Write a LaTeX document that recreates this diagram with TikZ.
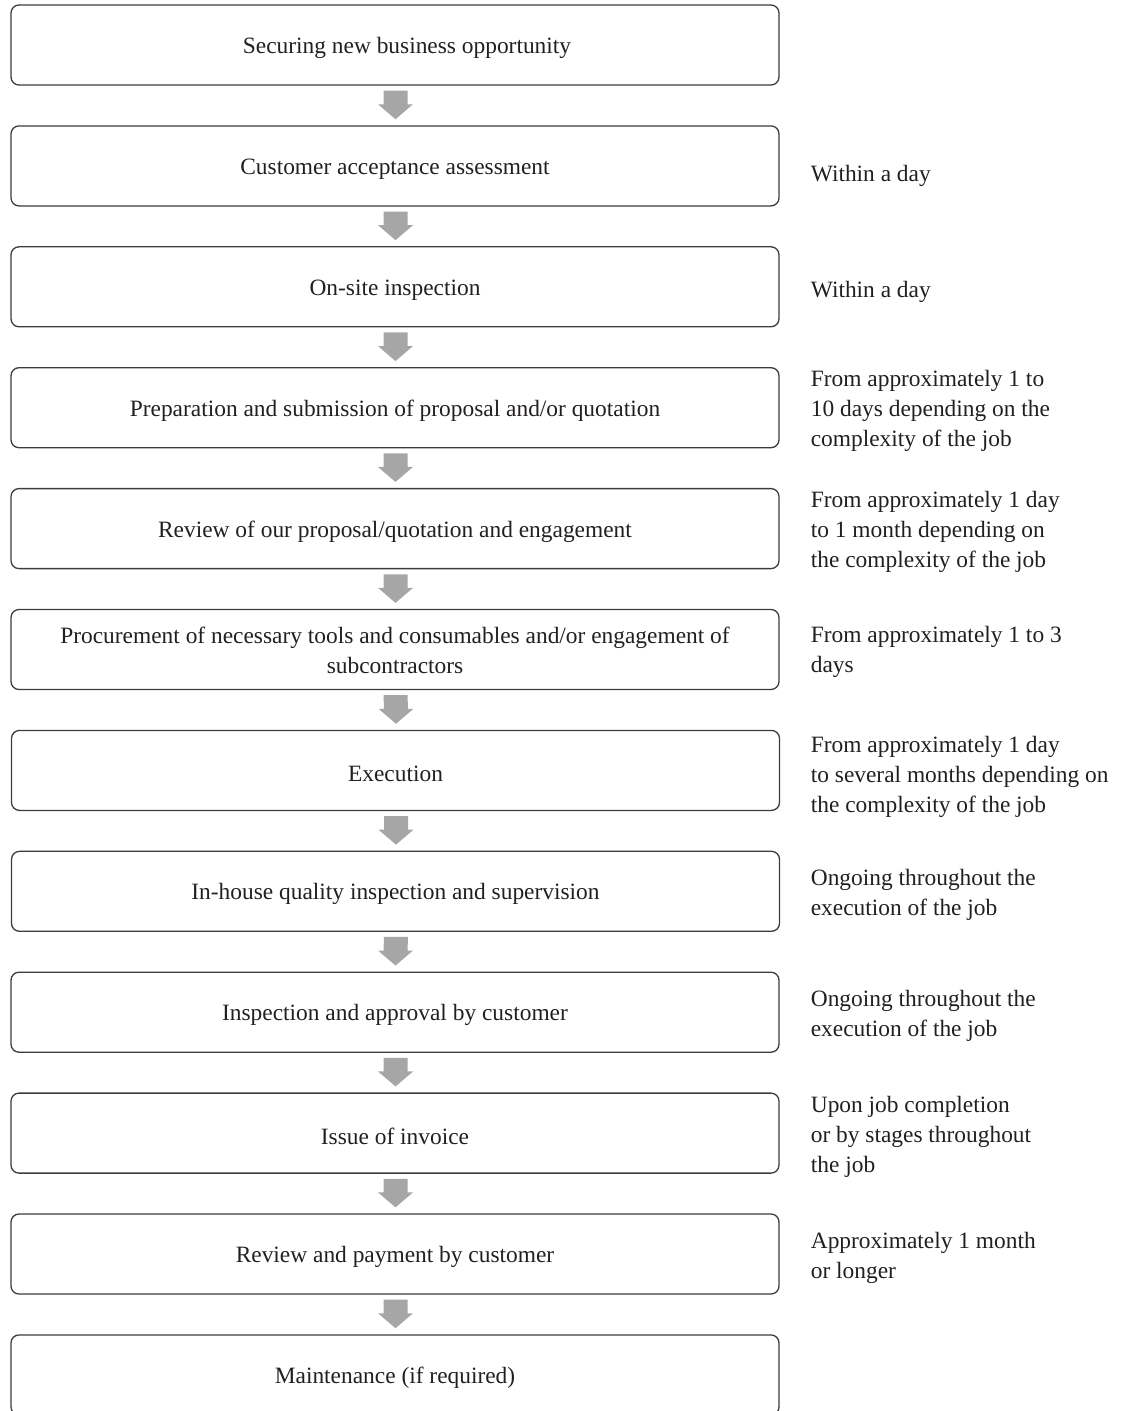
\documentclass[tikz,border=0pt]{standalone}
\usepackage{fontspec}
\setmainfont{Liberation Serif}
\usetikzlibrary{calc}
\definecolor{boxline}{HTML}{3C3C3C}
\definecolor{arrowgray}{HTML}{A6A6A6}
\definecolor{txt}{HTML}{231F20}
\begin{document}
\begin{tikzpicture}[x=1pt,y=-1pt,
  stepbox/.style={draw=boxline,line width=1.3pt,rounded corners=8pt,
    minimum width=768pt,minimum height=80pt,inner sep=0pt},
  boxtext/.style={inner sep=0pt,align=center,text=txt,
    font=\fontsize{23.4}{30}\selectfont},
  note/.style={anchor=west,inner sep=0pt,align=left,text=txt,
    font=\fontsize{23.4}{30}\selectfont},
  flowarrow/.style={fill=arrowgray,draw=none}]
\useasboundingbox (0,0) rectangle (1121,1411);
\node[stepbox] (b1)  at (395,45.0)    {};
\node[stepbox] (b2)  at (395,165.9)   {};
\node[stepbox] (b3)  at (395,286.8)   {};
\node[stepbox] (b4)  at (395,407.7)   {};
\node[stepbox] (b5)  at (395,528.6)   {};
\node[stepbox] (b6)  at (395,649.5)   {};
\node[stepbox] (b7)  at (395.5,770.4) {};
\node[stepbox] (b8)  at (395.5,891.3) {};
\node[stepbox] (b9)  at (395,1012.2)  {};
\node[stepbox] (b10) at (395,1133.1)  {};
\node[stepbox] (b11) at (395,1254.0)  {};
\node[stepbox] (b12) at (395,1374.9)  {};

\node[boxtext] (t1)  at ([shift={(12,3)}]b1.center)  {Securing new business opportunity};
\node[boxtext] (t2)  at ([shift={(0,3)}]b2.center)  {Customer acceptance assessment};
\node[boxtext] (t3)  at ([shift={(0,3)}]b3.center)  {On-site inspection};
\node[boxtext] (t4)  at ([shift={(0,3)}]b4.center)  {Preparation and submission of proposal and/or quotation};
\node[boxtext] (t5)  at ([shift={(0,3)}]b5.center)  {Review of our proposal/quotation and engagement};
\node[boxtext] (t6)  at ([shift={(0,1)}]b6.center)  {Procurement of necessary tools and consumables and/or engagement of\\subcontractors};
\node[boxtext] (t7)  at ([shift={(0,3)}]b7.center)  {Execution};
\node[boxtext] (t8)  at ([shift={(0,3)}]b8.center)  {In-house quality inspection and supervision};
\node[boxtext] (t9)  at ([shift={(0,3)}]b9.center)  {Inspection and approval by customer};
\node[boxtext] (t10) at ([shift={(0,3)}]b10.center) {Issue of invoice};
\node[boxtext] (t11) at ([shift={(0,3)}]b11.center) {Review and payment by customer};
\node[boxtext] (t12) at ([shift={(0,3)}]b12.center) {Maintenance (if required)};

\foreach \i/\j in {1/2,2/3,3/4,4/5,5/6,6/7,7/8,8/9,9/10,10/11,11/12}{
  \fill[flowarrow] ([shift={(-11.5,5)}]b\i.south) -- ([shift={(12.5,5)}]b\i.south)
    -- ([shift={(12.5,-21)}]b\j.north) -- ([shift={(18,-21)}]b\j.north)
    -- ([shift={(0.5,-6)}]b\j.north) -- ([shift={(-17,-21)}]b\j.north)
    -- ([shift={(-11.5,-21)}]b\j.north) -- cycle;
}

\node[note] (n2)  at ([shift={(31,10)}]b2.east)  {Within a day};
\node[note] (n3)  at ([shift={(31,5)}]b3.east)   {Within a day};
\node[note] (n4)  at ([shift={(31,3)}]b4.east)   {From approximately 1 to\\10 days depending on the\\complexity of the job};
\node[note] (n5)  at ([shift={(31,3)}]b5.east)   {From approximately 1 day\\to 1 month depending on\\the complexity of the job};
\node[note] (n6)  at ([shift={(31,2)}]b6.east)   {From approximately 1 to 3\\days};
\node[note] (n7)  at ([shift={(30.5,6)}]b7.east) {From approximately 1 day\\to several months depending on\\the complexity of the job};
\node[note] (n8)  at ([shift={(30.5,4)}]b8.east) {Ongoing throughout the\\execution of the job};
\node[note] (n9)  at ([shift={(31,4)}]b9.east)   {Ongoing throughout the\\execution of the job};
\node[note] (n10) at ([shift={(31,4)}]b10.east)  {Upon job completion\\or by stages throughout\\the job};
\node[note] (n11) at ([shift={(31,4)}]b11.east)  {Approximately 1 month\\or longer};
\end{tikzpicture}
\end{document}
